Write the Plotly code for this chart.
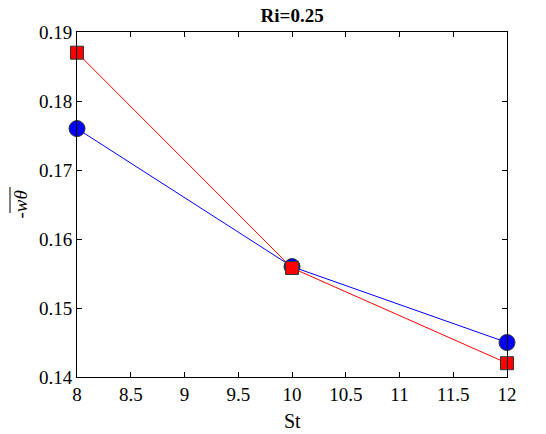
import plotly.graph_objects as go

st = [8, 10, 12]
red_sq = [0.187, 0.1558, 0.142]
blue_circ = [0.176, 0.156, 0.145]
x_ticks = [8, 8.5, 9, 9.5, 10, 10.5, 11, 11.5, 12]
y_ticks = [0.14, 0.15, 0.16, 0.17, 0.18, 0.19]

font = "Liberation Serif"

fig = go.Figure()
fig.add_trace(go.Scatter(x=st, y=blue_circ, mode="lines+markers",
                         line=dict(color="blue", width=1),
                         marker=dict(symbol="circle", size=16, color="blue",
                                     line=dict(color="#333333", width=1)),
                         cliponaxis=False, showlegend=False))
fig.add_trace(go.Scatter(x=st, y=red_sq, mode="lines+markers",
                         line=dict(color="red", width=1),
                         marker=dict(symbol="square", size=13, color="red",
                                     line=dict(color="#333333", width=1)),
                         cliponaxis=False, showlegend=False))

axis_common = dict(showline=True, linecolor="black", linewidth=1, mirror="ticks",
                   ticks="inside", ticklen=5, tickcolor="black", showgrid=False,
                   zeroline=False, automargin=False,
                   tickfont=dict(family=font, size=19, color="black"))

fig.update_xaxes(range=[8, 12], tickvals=x_ticks, ticktext=[f"{v:g}" for v in x_ticks],
                 **axis_common)
fig.update_yaxes(range=[0.14, 0.19], tickvals=y_ticks, ticktext=[f"{v:.2f}" for v in y_ticks],
                 **axis_common)

# x-axis label
fig.add_annotation(text="St", xref="paper", yref="paper", x=0.5, y=0, yshift=-44,
                   showarrow=False, xanchor="center", yanchor="middle",
                   font=dict(family=font, size=20, color="black"))

# y-axis label with overline
fig.add_annotation(text="-<i>w\u03b8</i>", textangle=-90, xref="paper", yref="paper",
                   x=0, y=0.5, xshift=-57, yshift=0, showarrow=False,
                   xanchor="center", yanchor="middle",
                   font=dict(family=font, size=19, color="black"))
fig.add_shape(type="line", xref="paper", yref="paper", xsizemode="pixel", ysizemode="pixel",
              xanchor=0, yanchor=0.5, x0=-67, x1=-67, y0=17.5, y1=-8.5,
              line=dict(color="black", width=1))

fig.update_layout(
    width=546, height=434,
    margin=dict(l=77, r=39, t=32, b=57),
    paper_bgcolor="white", plot_bgcolor="white",
    title=dict(text="<b>Ri=0.25</b>", x=0.535, xanchor="center", y=0.965, yanchor="middle",
               font=dict(family=font, size=19, color="black")),
)

fig.write_html("out.html")
